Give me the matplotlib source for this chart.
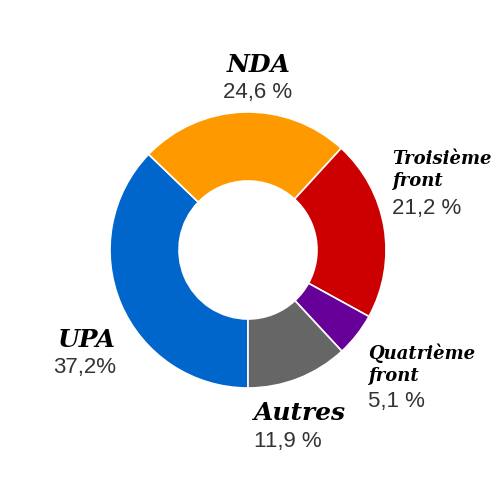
import matplotlib
matplotlib.use("Agg")
import matplotlib.pyplot as plt

parties = ["UPA", "NDA", "Troisième\nfront", "Quatrième\nfront", "Autres"]
shares = [37.2, 24.6, 21.2, 5.1, 11.9]
pct_labels = ["37,2%", "24,6 %", "21,2 %", "5,1 %", "11,9 %"]
colors = ["#0066cc", "#ff9900", "#cc0000", "#660099", "#666666"]

fig = plt.figure(figsize=(5, 5), dpi=100)
ax = fig.add_axes([0, 0, 1, 1])

ax.pie(shares, colors=colors, startangle=270, counterclock=False,
       radius=1.0, wedgeprops=dict(width=0.5, edgecolor="white", linewidth=1.2))

# pixel -> data helper (radius 1 = 138 px, centre at 248,250)
R = 138.0
def px(x, y):
    return (x - 248) / R, (250 - y) / R

ax.set_xlim(-248 / R, 252 / R)
ax.set_ylim(-250 / R, 250 / R)
ax.set_aspect("equal")
ax.axis("off")

serif = dict(family="DejaVu Serif", weight="bold", style="italic", color="black")
sans = dict(family="Liberation Sans", color="#333333")

# name pos, pct pos, name size, alignment
layout = [
    ((87, 340), (85, 367), 18, "center"),
    ((259, 65), (258, 92), 18, "center"),
    ((392, 170), (392, 208), 13, "left"),
    ((368, 364), (368, 402), 13, "left"),
    ((254, 413), (254, 441), 18, "left"),
]

for name, pct, (npos, ppos, size, ha) in zip(parties, pct_labels, layout):
    ax.text(*px(*npos), name, ha=ha, va="center", fontsize=size,
            linespacing=1.3, **serif)
    ax.text(*px(*ppos), pct, ha=ha, va="center", fontsize=16, **sans)

fig.savefig("out.png", dpi=100, facecolor="white")
